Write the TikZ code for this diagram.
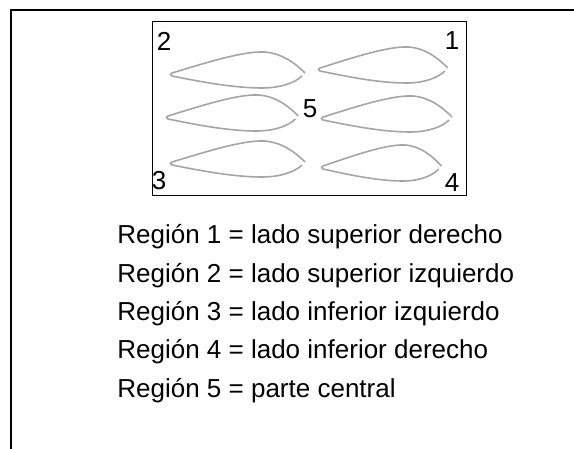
\documentclass[tikz,border=0pt]{standalone}
\usepackage{fontspec}
\setmainfont{Liberation Sans}
\usepackage{tikz}
\usetikzlibrary{positioning}
\definecolor{bladegray}{RGB}{165,165,165}

\tikzset{
  % one blade section, tail at the origin, nose to the right
  blade/.pic={
    \draw[bladeline] (130,3) .. controls (124,9) and (110,15) .. (90,15)
      .. controls (62,15) and (30,9) .. (0,3)
      .. controls (-2,2) and (-2,1) .. (0,0)
      .. controls (30,-9) and (70,-22) .. (92,-21)
      .. controls (110,-20) and (124,-9) .. (133,0);
  }
}

\begin{document}
\begin{tikzpicture}[
  x=0.5pt, y=-0.5pt,
  frame/.style={line width=1pt, line cap=rect},
  bladeline/.style={draw=bladegray, line width=0.8pt},
  num/.style={inner sep=0pt, font=\fontsize{13}{15}\selectfont},
  legend/.style={inner sep=0pt, anchor=base west, font=\fontsize{13}{15}\selectfont},
  node distance=19.15pt
]
  \useasboundingbox (0,0) rectangle (574,449);

  % open frame around the figure
  \draw[frame] (11,449) -- (11,10.5) -- (574,10.5);

  % box with the six sections
  \draw[line width=0.5pt] (152,22) rectangle (466,196);
  \pic at (172,73) {blade};
  \pic[xscale=0.96] at (320,68) {blade};
  \pic[xscale=0.98] at (168,116) {blade};
  \pic[xscale=0.97] at (323,117) {blade};
  \pic at (172,162) {blade};
  \pic[xscale=0.89] at (323,166) {blade};

  \node[num] (n2) at (164,41) {2};
  \node[num] (n1) at (452,41) {1};
  \node[num] (n5) at (310,109) {5};
  \node[num] (n3) at (159,181) {3};
  \node[num] (n4) at (452,183) {4};

  % legend
  \node[legend] (r1) at (117,244) {Región 1 = lado superior derecho};
  \node[below=of r1.base west, legend] (r2) {Región 2 = lado superior izquierdo};
  \node[below=of r2.base west, legend] (r3) {Región 3 = lado inferior izquierdo};
  \node[below=of r3.base west, legend] (r4) {Región 4 = lado inferior derecho};
  \node[below=of r4.base west, legend] (r5) {Región 5 = parte central};
\end{tikzpicture}
\end{document}
